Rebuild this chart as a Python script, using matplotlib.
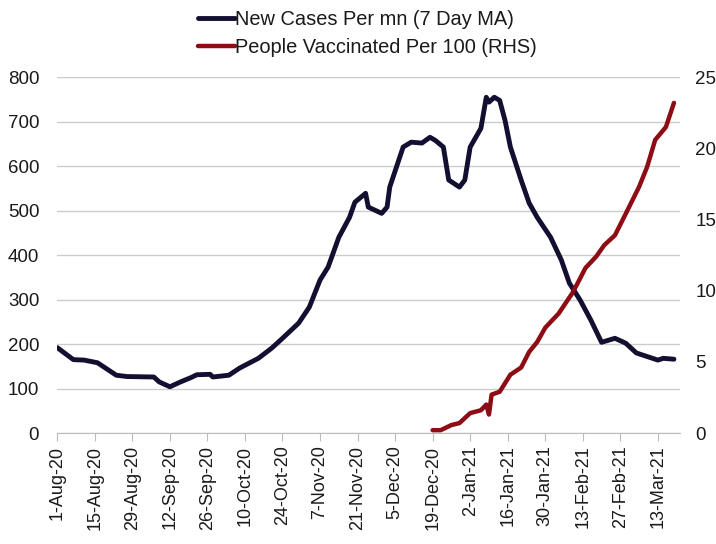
"""
    New cases per million vs people vaccinated per 100, two y axes.
"""
# Modules:
import datetime as dt
import matplotlib
matplotlib.use("Agg")
import matplotlib.pyplot as plt
import matplotlib.dates as mdates

# Data:
case_dates = ["2020-08-01", "2020-08-07", "2020-08-11", "2020-08-16", "2020-08-20",
              "2020-08-23", "2020-08-27", "2020-09-06", "2020-09-08", "2020-09-12",
              "2020-09-16", "2020-09-20", "2020-09-22", "2020-09-27", "2020-09-28",
              "2020-10-04", "2020-10-08", "2020-10-15", "2020-10-20", "2020-10-24",
              "2020-10-30", "2020-11-03", "2020-11-07", "2020-11-10", "2020-11-14",
              "2020-11-18", "2020-11-20", "2020-11-24", "2020-11-25", "2020-11-30",
              "2020-12-02", "2020-12-03", "2020-12-06", "2020-12-08", "2020-12-11",
              "2020-12-15", "2020-12-18", "2020-12-20", "2020-12-23", "2020-12-25",
              "2020-12-29", "2020-12-31", "2021-01-02", "2021-01-06", "2021-01-08",
              "2021-01-09", "2021-01-11", "2021-01-13", "2021-01-15", "2021-01-17",
              "2021-01-21", "2021-01-24", "2021-01-27", "2021-02-01", "2021-02-05",
              "2021-02-08", "2021-02-12", "2021-02-16", "2021-02-20", "2021-02-25",
              "2021-03-01", "2021-03-05", "2021-03-13", "2021-03-15", "2021-03-19"]
new_cases = [192, 165, 164, 158, 142,
             130, 127, 126, 115, 104,
             115, 125, 131, 132, 126,
             130, 146, 168, 191, 213,
             247, 283, 344, 373, 440,
             485, 519, 539, 508, 494,
             508, 553, 607, 643, 654,
             652, 665, 658, 643, 569,
             553, 569, 643, 685, 755,
             744, 755, 748, 703, 643,
             569, 517, 485, 440, 389,
             337, 299, 254, 204, 213,
             202, 180, 164, 168, 166]

vacc_dates = ["2020-12-19", "2020-12-22", "2020-12-26", "2020-12-29", "2021-01-02",
              "2021-01-06", "2021-01-08", "2021-01-09", "2021-01-10", "2021-01-13",
              "2021-01-15", "2021-01-17", "2021-01-21", "2021-01-24", "2021-01-27",
              "2021-01-30", "2021-02-04", "2021-02-09", "2021-02-11", "2021-02-14",
              "2021-02-18", "2021-02-21", "2021-02-25", "2021-03-01", "2021-03-06",
              "2021-03-09", "2021-03-12", "2021-03-16", "2021-03-19"]
vaccinated = [0.2, 0.2, 0.56, 0.7, 1.4,
              1.6, 2.0, 1.3, 2.7, 2.9,
              3.5, 4.1, 4.6, 5.7, 6.4,
              7.4, 8.4, 9.8, 10.5, 11.6,
              12.4, 13.2, 13.9, 15.4, 17.3,
              18.7, 20.6, 21.5, 23.2]

# Converting strings to dates:
case_x = [dt.datetime.strptime(d, "%Y-%m-%d") for d in case_dates]
vacc_x = [dt.datetime.strptime(d, "%Y-%m-%d") for d in vacc_dates]

plt.rcParams['font.family'] = ['Liberation Sans', 'DejaVu Sans']

fig = plt.figure(figsize=(7.16, 5.44), dpi=100)
ax = fig.add_axes([0.08, 0.204, 0.87, 0.654])
ax2 = ax.twinx()

# Lines:
l1, = ax.plot(case_x, new_cases, color="#120f30", lw=3.5, solid_capstyle="round",
              solid_joinstyle="round", label="New Cases Per mn (7 Day MA)", zorder=3)
l2, = ax2.plot(vacc_x, vaccinated, color="#8e0c14", lw=3.2, solid_capstyle="round",
               solid_joinstyle="round", label="People Vaccinated Per 100 (RHS)", zorder=3)

# Axes limits and ticks:
start = dt.datetime(2020, 8, 1)
ax.set_xlim(start, dt.datetime(2021, 3, 21, 8))
ax.set_ylim(0, 800)
ax2.set_ylim(0, 25)
ax.set_yticks(range(0, 801, 100))
ax2.set_yticks(range(0, 26, 5))

ticks = [start + dt.timedelta(days=14 * i) for i in range(17)]
ax.set_xticks(ticks)
ax.xaxis.set_major_formatter(mdates.DateFormatter("%-d-%b-%y"))
plt.setp(ax.get_xticklabels(), rotation=90)

ax.grid(axis="y", color="#cccccc", lw=1)
ax.set_axisbelow(True)
for a in (ax, ax2):
    for s in ("top", "left", "right"):
        a.spines[s].set_visible(False)
ax2.spines["bottom"].set_visible(False)
ax.spines["bottom"].set_color("#bbbbbb")

ax.tick_params(axis="x", length=6, color="#bbbbbb", labelsize=13, labelcolor="#1a1a1a", pad=3)
ax.tick_params(axis="y", length=0, labelsize=13.5, labelcolor="#1a1a1a", pad=13)
ax2.tick_params(axis="y", length=0, labelsize=13.5, labelcolor="#1a1a1a", pad=11)

# Legend:
fig.legend(handles=[l1, l2], loc="upper center", bbox_to_anchor=(0.513, 1.015),
           frameon=False, fontsize=14.4, handlelength=1.85, handletextpad=0.0,
           labelspacing=0.45, labelcolor="#1a1a1a")

fig.savefig("out.png", dpi=100)
